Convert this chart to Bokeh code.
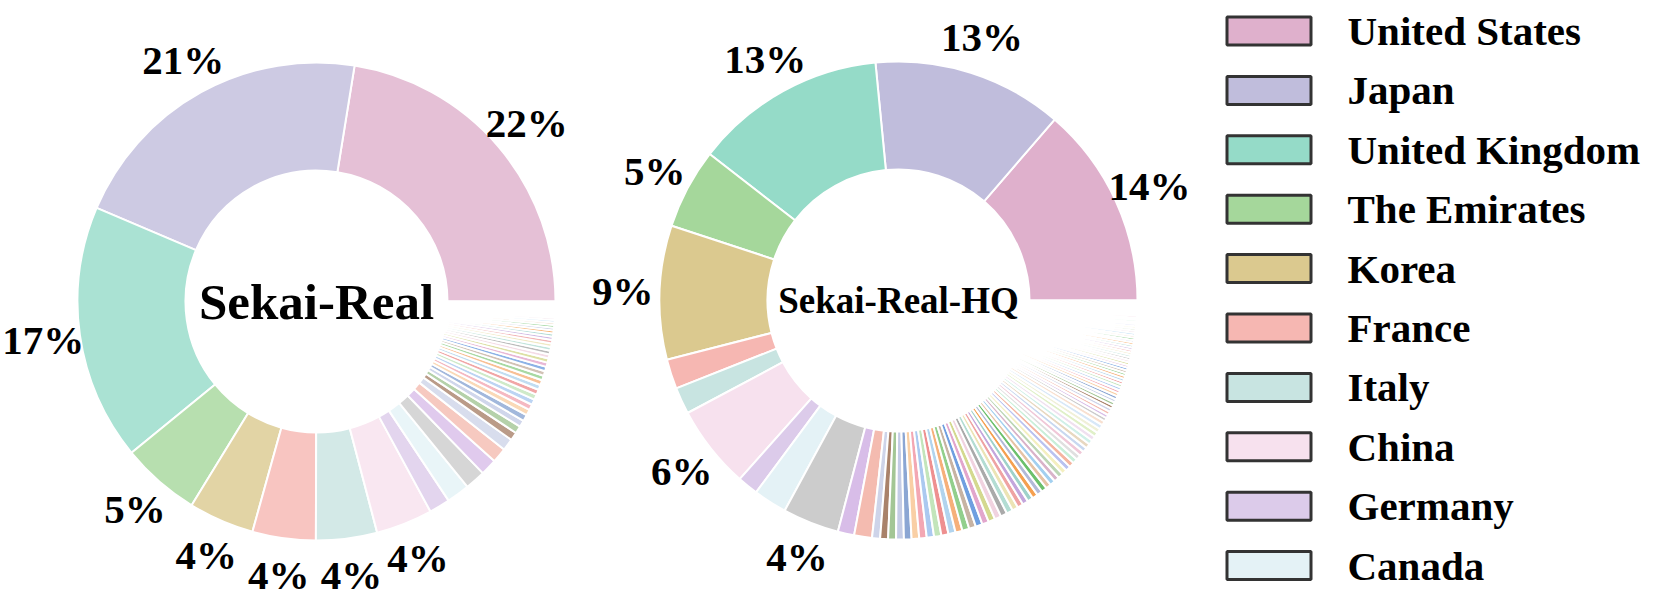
import numpy as np
from bokeh.plotting import figure
from bokeh.models import Range1d
from bokeh.embed import file_html
from bokeh.resources import INLINE
from bokeh.core.properties import value

# ---------------- data ----------------
countries = ["United States", "Japan", "United Kingdom", "The Emirates", "Korea",
             "France", "Italy", "China", "Germany", "Canada"]
country_colors = ["#dfb0cc", "#c0bddc", "#95dbc8", "#a5d79b", "#dbc98f",
                  "#f6b7b2", "#c8e4e1", "#f7e1ee", "#dccbea", "#e4f2f6"]

# Sekai-Real shares (%) for the ten named countries
real_top = [22.3, 21.0, 17.2, 5.3, 4.4, 4.25, 4.1, 3.8, 1.4, 1.55]
# remaining (unnamed) countries of Sekai-Real
real_others = [1.36, 1.1, 1.0, 0.8, 0.55, 0.5, 0.45, 0.42,
               0.40, 0.38, 0.37, 0.36, 0.35, 0.34, 0.33, 0.32, 0.31, 0.30,
               0.29, 0.28, 0.27, 0.26, 0.25, 0.24, 0.23, 0.22, 0.21, 0.20,
               0.19, 0.18, 0.17, 0.16, 0.15, 0.14, 0.13, 0.12, 0.11, 0.10,
               0.09, 0.08, 0.07, 0.06, 0.05, 0.05, 0.04, 0.04]

# Sekai-Real-HQ shares (%)
hq_top = [13.6, 12.8, 12.9, 5.4, 9.0, 2.0, 1.8, 5.6, 1.4, 2.25]
hq_others = [3.8, 1.1, 1.2,
             0.54, 0.53, 0.53, 0.52, 0.51, 0.51, 0.50, 0.49, 0.49, 0.48,
             0.48, 0.47, 0.47, 0.46, 0.46, 0.45, 0.45, 0.44, 0.44, 0.43,
             0.40, 0.39, 0.39, 0.38, 0.38, 0.37, 0.37, 0.36, 0.36, 0.35,
             0.35, 0.35, 0.34, 0.34, 0.33, 0.33, 0.33, 0.32, 0.32, 0.31,
             0.31, 0.31, 0.30, 0.30, 0.30,
             0.24, 0.24, 0.24, 0.23, 0.23, 0.23, 0.22, 0.22, 0.22, 0.21,
             0.21, 0.21, 0.20, 0.20, 0.20, 0.19, 0.19, 0.19, 0.18, 0.18,
             0.18, 0.17, 0.17, 0.17, 0.16,
             0.17, 0.17, 0.17, 0.16, 0.16, 0.16, 0.16, 0.15, 0.15, 0.15,
             0.15, 0.14, 0.14, 0.14, 0.14, 0.13, 0.13, 0.13, 0.13, 0.12,
             0.12, 0.12, 0.12]

others_colors = ["#cccccc", "#d8bde8", "#f4bbb0", "#ced4e9", "#a9826a", "#a3c695",
                 "#c4cce6", "#8ba6d3", "#f9cfa5", "#f3a7b3", "#abc9f0", "#c3e5bb",
                 "#ee9090", "#b2d4ee", "#f6b07a", "#92cf8c", "#c7b3a3", "#6f9fe0",
                 "#e2a6cc", "#d4d98f", "#f1d3e0", "#aaaaaa", "#b3ddd3", "#ece4b5",
                 "#efa3a3", "#c4a6dc", "#9fd2ca", "#f5a050", "#b3bad8", "#6cc06c",
                 "#e6c3a5", "#a3d0f0", "#d9b3c9", "#bcd6b5", "#f4efc0", "#b9c2f0",
                 "#f5b5a0", "#c9efd9", "#e0e0e0", "#f0c8d8", "#c8d8f0", "#e8d8c0",
                 "#d0f0e8", "#f0e0f0", "#e0f0c8", "#f0f0d8", "#d8e8f8", "#f8e0d0"]

titles = ["Sekai-Real", "Sekai-Real-HQ"]

# ---------------- figure ----------------
W, H = 1661, 604
p = figure(width=W, height=H, x_range=Range1d(0, W), y_range=Range1d(0, H),
           output_backend="svg", toolbar_location=None,
           x_axis_type=None, y_axis_type=None, min_border=0)
p.grid.visible = False
p.outline_line_color = None

FONT = value("Liberation Serif")
R_OUT = 239
R_IN = 131
R_LAB = 276


def donut(cx, cy, top, others, alpha, title, tsize):
    vals = np.array(list(top) + list(others), dtype=float)
    cols = list(country_colors) + [others_colors[i % len(others_colors)]
                                   for i in range(len(others))]
    frac = vals / vals.sum()
    ends = np.cumsum(frac) * 2 * np.pi
    starts = ends - frac * 2 * np.pi
    n = len(vals)
    p.annular_wedge(x=[cx] * n, y=[cy] * n, inner_radius=R_IN, outer_radius=R_OUT,
                    start_angle=starts, end_angle=ends, fill_color=cols,
                    fill_alpha=alpha, line_color="white", line_width=2)
    mids = (starts + ends) / 2
    pct = frac * 100
    show = pct >= 3.5
    lx = cx + R_LAB * np.cos(mids[show])
    ly = cy + R_LAB * np.sin(mids[show])
    p.text(x=lx, y=ly, text=[f"{v:.0f}%" for v in pct[show]],
           text_font=FONT, text_font_style="bold", text_font_size="41px",
           text_align="center", text_baseline="middle", text_color="black")
    p.text(x=[cx], y=[cy], text=[title], text_font=FONT,
           text_font_style="bold", text_font_size=tsize,
           text_align="center", text_baseline="middle", text_color="black")


donut(316, 303, real_top, real_others, 0.8, titles[0], "51px")
donut(898, 304, hq_top, hq_others, 1.0, titles[1], "37px")

# ---------------- legend ----------------
rows = np.arange(len(countries))
yc = H - (30.5 + 59.4 * rows)
p.rect(x=[1268.5] * len(rows), y=yc, width=84, height=28,
       fill_color=country_colors, line_color="#333333", line_width=3)
p.text(x=[1347] * len(rows), y=yc, text=countries, text_font=FONT,
       text_font_style="bold", text_font_size="41px", text_align="left",
       text_baseline="middle", text_color="black")

open("out.html", "w").write(file_html(p, INLINE))
